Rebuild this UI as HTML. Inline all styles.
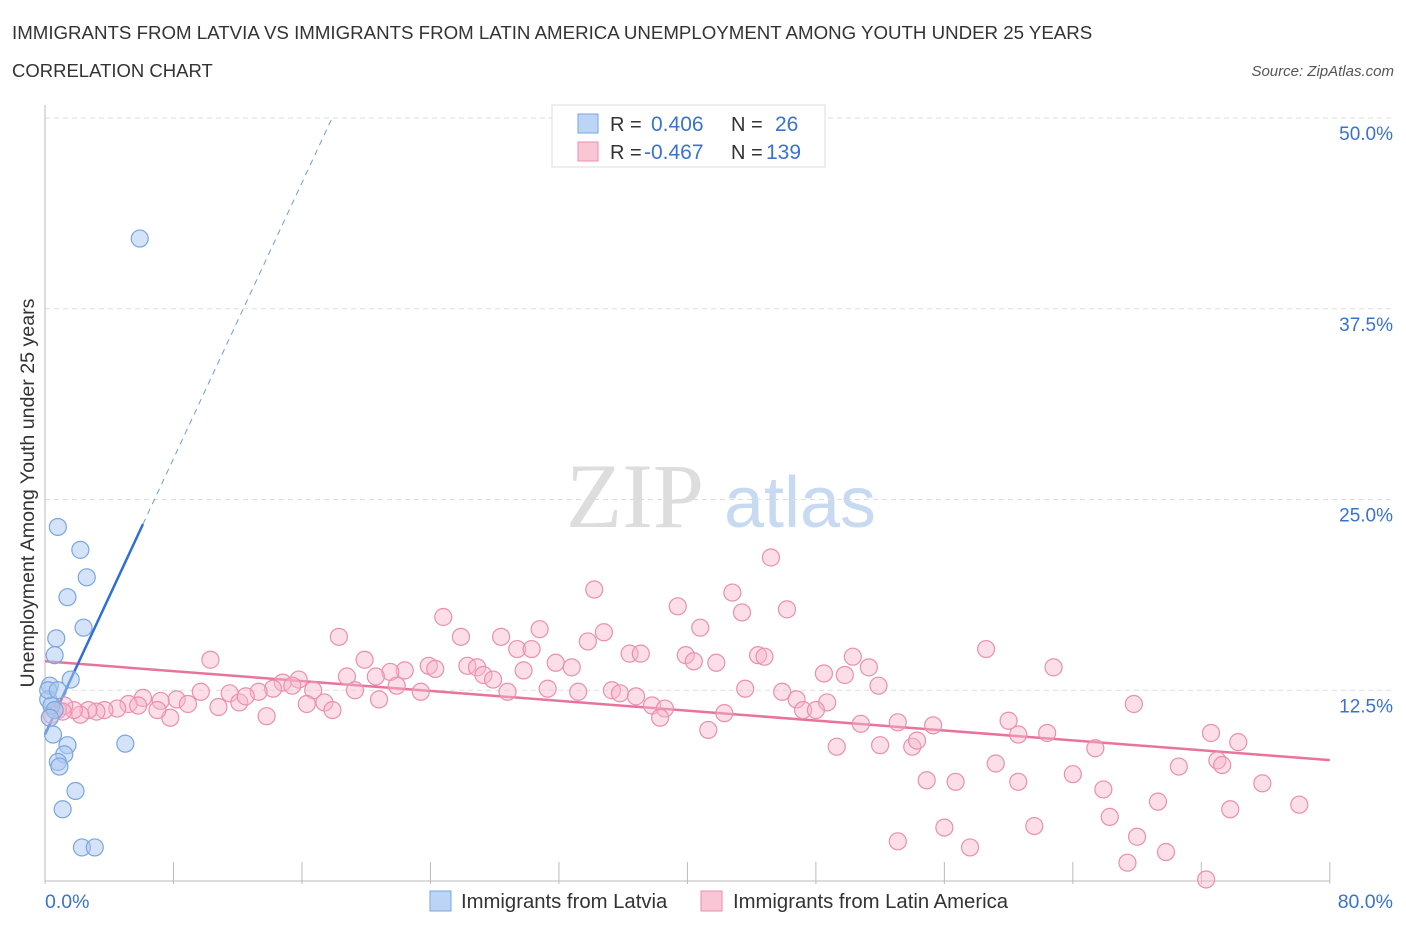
<!DOCTYPE html>
<html><head><meta charset="utf-8"><style>
body{margin:0;background:#fff;font-family:"Liberation Sans",sans-serif;}
svg{display:block}
</style></head><body>
<svg id="chart" width="1406" height="930" font-family="Liberation Sans, sans-serif">
<text x="12" y="39" font-size="18.7" fill="#333">IMMIGRANTS FROM LATVIA VS IMMIGRANTS FROM LATIN AMERICA UNEMPLOYMENT AMONG YOUTH UNDER 25 YEARS</text>
<text x="12" y="77" font-size="18.5" fill="#333">CORRELATION CHART</text>
<text x="1394" y="76" font-size="15" fill="#555" font-style="italic" text-anchor="end">Source: ZipAtlas.com</text>
<text x="635" y="527" font-size="92" fill="#ddd" font-family="Liberation Serif, serif" text-anchor="middle">ZIP</text>
<text x="800" y="527" font-size="72" fill="#c8daf2" text-anchor="middle">atlas</text>
<g id="grid"></g>
<g id="axes"></g>
<g id="lines"></g>
<g id="pts"></g>
<text transform="translate(34,493) rotate(-90)" font-size="19.6" fill="#333" text-anchor="middle">Unemployment Among Youth under 25 years</text>
<text x="45" y="908" font-size="19.5" fill="#3a72d0">0.0%</text>
<text x="1393" y="908" font-size="19.5" fill="#3a72d0" text-anchor="end">80.0%</text>
<g>
<rect x="552" y="105" width="273" height="62" fill="#fff" stroke="#ddd"/>
<rect x="578" y="114" width="20" height="19" fill="#bcd4f5" stroke="#7aa6e0"/>
<rect x="578" y="142" width="20" height="19" fill="#f9c6d6" stroke="#eb8fae"/>
<text x="610" y="131" font-size="20" fill="#333">R =</text>
<text x="651" y="131" font-size="21" fill="#3a72d0">0.406</text>
<text x="731" y="131" font-size="20" fill="#333">N =</text>
<text x="775" y="131" font-size="21" fill="#3a72d0">26</text>
<text x="610" y="159" font-size="20" fill="#333">R =</text>
<text x="644" y="159" font-size="21" fill="#3a72d0">-0.467</text>
<text x="731" y="159" font-size="20" fill="#333">N =</text>
<text x="766" y="159" font-size="21" fill="#3a72d0">139</text>
</g>
<g>
<rect x="430" y="891" width="21" height="20" fill="#bcd4f5" stroke="#7aa6e0"/>
<text x="461" y="908" font-size="20.3" fill="#333">Immigrants from Latvia</text>
<rect x="701" y="891" width="21" height="20" fill="#f9c6d6" stroke="#eb8fae"/>
<text x="733" y="908" font-size="20.3" fill="#333">Immigrants from Latin America</text>
</g>
</svg>
<script>
const yTicks=[12.5,25,37.5,50];
const yTickLabels=["12.5%","25.0%","37.5%","50.0%"];
const xTicks=[0,8,16,24,32,40,48,56,64,72,80];
const latviaX=[5.9,0.8,2.2,2.6,1.4,2.4,0.7,0.6,1.6,0.3,0.2,0.4,0.6,0.3,0.5,1.4,1.2,5.0,0.8,0.9,1.9,1.1,2.3,3.1,0.2,0.8];
const latviaY=[42.1,23.2,21.7,19.9,18.6,16.6,15.9,14.8,13.2,12.8,11.9,11.5,11.2,10.7,9.6,8.9,8.3,9.0,7.8,7.5,5.9,4.7,2.2,2.2,12.5,12.5];
const latinX=[45.2,34.2,42.8,39.4,46.2,43.4,24.8,40.8,30.8,18.3,25.9,28.4,34.8,33.8,10.3,19.9,29.4,30.3,36.4,37.1,39.9,44.4,44.8,41.8,40.4,31.8,32.8,26.3,26.9,23.9,24.3,22.4,21.5,20.6,18.8,27.3,27.9,29.8,48.5,50.3,51.3,49.8,58.6,62.8,51.9,43.6,45.9,46.8,48.7,47.2,48.0,15.8,14.8,15.4,14.2,16.7,13.3,11.5,9.7,8.2,7.2,6.1,5.2,4.5,3.7,3.2,2.7,2.2,1.8,1.2,0.8,0.4,1.1,8.9,10.8,12.1,12.5,13.8,16.3,17.4,17.9,7.8,7.0,5.8,19.3,20.8,21.9,23.4,28.8,31.3,33.2,35.3,35.8,36.8,37.8,38.6,38.3,42.3,41.3,50.8,53.1,55.3,60.0,60.6,62.4,67.8,49.3,52.0,54.0,54.3,65.4,70.6,73.0,73.3,74.3,64.0,65.9,54.9,56.7,59.2,60.6,69.3,75.8,78.1,73.8,66.3,56.0,61.6,68.0,53.1,57.6,69.8,67.4,72.3,72.6];
const latinY=[21.2,19.1,18.9,18.0,17.8,17.6,17.3,16.6,16.5,16.0,16.0,16.0,16.3,15.7,14.5,14.5,15.2,15.2,14.9,14.9,14.8,14.8,14.7,14.3,14.4,14.3,14.0,14.1,14.0,14.1,13.9,13.8,13.7,13.4,13.4,13.5,13.2,13.8,13.6,14.7,14.0,13.5,15.2,14.0,12.8,12.6,12.4,11.9,11.7,11.2,11.2,13.2,13.0,12.8,12.6,12.5,12.4,12.3,12.4,11.9,11.8,12.0,11.6,11.3,11.2,11.1,11.2,10.9,11.2,11.5,11.2,10.9,11.1,11.6,11.4,11.7,12.1,10.8,11.6,11.7,11.2,10.7,11.2,11.5,12.5,11.9,12.8,12.4,12.4,12.6,12.4,12.5,12.3,12.1,11.5,11.3,10.7,11.0,9.9,10.3,10.4,10.2,10.5,9.6,9.7,11.6,8.8,8.9,8.8,9.2,8.7,7.5,7.9,7.6,9.1,7.0,6.0,6.6,6.5,7.7,6.5,5.2,6.4,5.0,4.7,4.2,3.5,3.6,2.9,2.6,2.2,1.9,1.2,0.1,9.7];
const latviaFit=[9.6,2.26];
const latinFit=[14.4,-0.081];
const NS="http://www.w3.org/2000/svg";
const X=v=>45+v*16.06, Y=v=>881-v*15.26;
function mk(tag,attrs,parent){const e=document.createElementNS(NS,tag);for(const k in attrs)e.setAttribute(k,attrs[k]);parent.appendChild(e);return e;}
const grid=document.getElementById('grid'),axes=document.getElementById('axes'),lines=document.getElementById('lines'),pts=document.getElementById('pts');
yTicks.forEach((t,i)=>{
 const l=mk('line',{x1:45,x2:1392,y1:Y(t),y2:Y(t),stroke:'#ddd','stroke-dasharray':'5,4'},grid);
 
 
 const tx=mk('text',{x:1393,y:Y(t)+22,'font-size':19,fill:'#3a72d0','text-anchor':'end'},grid);
 tx.textContent=yTickLabels[i];
 
 
});
const ya=mk('line',{x1:45,x2:45,y1:105,y2:882,stroke:'#bbb'},axes);


const xa=mk('line',{x1:45,x2:1330,y1:881,y2:881,stroke:'#bbb'},axes);


xTicks.forEach(t=>{
 const l=mk('line',{x1:X(t),x2:X(t),y1:862,y2:884,stroke:'#bbb'},axes);
 
 
});
latinX.forEach((x,i)=>{
 const c=mk('circle',{cx:X(x),cy:Y(latinY[i]),r:8.5,fill:'rgba(247,182,204,0.45)',stroke:'#eb8fae','stroke-width':1.2},pts);
 
 
});
latviaX.forEach((x,i)=>{
 const c=mk('circle',{cx:X(x),cy:Y(latviaY[i]),r:8.5,fill:'rgba(169,200,240,0.5)',stroke:'#7aa6e0','stroke-width':1.2},pts);
 
 
});
const pl=mk('line',{x1:X(0),y1:Y(latinFit[0]),x2:X(80),y2:Y(latinFit[0]+latinFit[1]*80),stroke:'#e8739c','stroke-width':2.5},lines);


const xs=6.1, xe=(50-latviaFit[0])/latviaFit[1];
const bl=mk('line',{x1:X(0),y1:Y(latviaFit[0]),x2:X(xs),y2:Y(latviaFit[0]+latviaFit[1]*xs),stroke:'#2f6fd6','stroke-width':2.5},lines);


const bd=mk('line',{x1:X(xs),y1:Y(latviaFit[0]+latviaFit[1]*xs),x2:X(xe),y2:Y(50),stroke:'#6d9be0','stroke-width':1,'stroke-dasharray':'6,5'},lines);


</script>
</body></html>
